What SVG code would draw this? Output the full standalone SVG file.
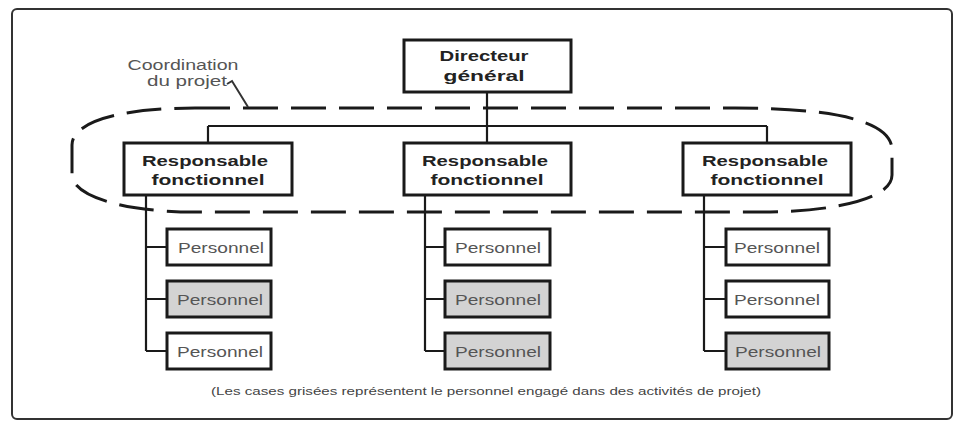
<svg xmlns="http://www.w3.org/2000/svg" width="954" height="421" viewBox="0 0 954 421">
<style>
.box{fill:#fff;stroke:#1a1a1a;stroke-width:3}
.grey{fill:#d3d3d3}
.conn{fill:none;stroke:#1a1a1a;stroke-width:2.2}
.b{font-family:"Liberation Sans",Arial,sans-serif;font-weight:bold;font-size:15px;fill:#222;text-anchor:middle}
.p{font-family:"Liberation Sans",Arial,sans-serif;font-size:15px;fill:#555;text-anchor:middle}
.n{font-family:"Liberation Sans",Arial,sans-serif;font-size:14px;fill:#555;text-anchor:middle}
.c{font-family:"Liberation Sans",Arial,sans-serif;font-size:11px;fill:#444;text-anchor:middle}
</style>
<rect x="0" y="0" width="954" height="421" fill="#fff"/>
<rect x="12" y="9" width="940" height="410" rx="5" fill="#fff" stroke="#333" stroke-width="2"/>

<g id="connectors">
<path class="conn" d="M487 92 V126 M208 126 H767 M208 126 V143 M487 126 V143 M767 126 V143"/>
<path class="conn" d="M146 195 V351 M146 247 H167 M146 299 H167 M146 351 H167"/>
<path class="conn" d="M425 195 V351 M425 247 H445 M425 299 H445 M425 351 H445"/>
<path class="conn" d="M704 195 V351 M704 247 H726 M704 299 H726 M704 351 H726"/>
</g>

<g id="coordination">
<path d="M195 108 L735 108 C830 108 892 120 892 150 L892 175 C892 200 830 212 760 212 L195 212 C120 212 72 195 72 175 L72 145 C72 122 120 108 195 108 Z" fill="none" stroke="#1a1a1a" stroke-width="3" stroke-dasharray="35 13"/>
<text class="n" x="183" y="70" textLength="111" lengthAdjust="spacingAndGlyphs">Coordination</text>
<text class="n" x="187" y="86" textLength="80" lengthAdjust="spacingAndGlyphs">du projet</text>
<polyline points="227,84 232,81 248,107" fill="none" stroke="#333" stroke-width="2"/>
</g>

<g id="dg">
<rect class="box" x="404" y="40" width="167" height="52"/>
<text class="b" x="484" y="61" textLength="89" lengthAdjust="spacingAndGlyphs">Directeur</text>
<text class="b" x="484" y="81" textLength="81" lengthAdjust="spacingAndGlyphs">général</text>
</g>

<g id="resp1">
<rect class="box" x="124" y="143" width="168" height="52"/>
<text class="b" x="205" y="166" textLength="126" lengthAdjust="spacingAndGlyphs">Responsable</text>
<text class="b" x="208" y="185" textLength="113" lengthAdjust="spacingAndGlyphs">fonctionnel</text>
</g>
<g id="resp2">
<rect class="box" x="404" y="143" width="167" height="52"/>
<text class="b" x="485" y="166" textLength="126" lengthAdjust="spacingAndGlyphs">Responsable</text>
<text class="b" x="487" y="185" textLength="113" lengthAdjust="spacingAndGlyphs">fonctionnel</text>
</g>
<g id="resp3">
<rect class="box" x="683" y="143" width="168" height="52"/>
<text class="b" x="765" y="166" textLength="126" lengthAdjust="spacingAndGlyphs">Responsable</text>
<text class="b" x="767" y="185" textLength="113" lengthAdjust="spacingAndGlyphs">fonctionnel</text>
</g>

<g id="p1a"><rect class="box" x="167" y="229" width="104" height="36"/><text class="p" x="221" y="253" textLength="86" lengthAdjust="spacingAndGlyphs">Personnel</text></g>
<g id="p1b"><rect class="box grey" x="167" y="281" width="104" height="36"/><text class="p" x="220" y="305" textLength="86" lengthAdjust="spacingAndGlyphs">Personnel</text></g>
<g id="p1c"><rect class="box" x="167" y="333" width="104" height="36"/><text class="p" x="220" y="357" textLength="86" lengthAdjust="spacingAndGlyphs">Personnel</text></g>

<g id="p2a"><rect class="box" x="445" y="229" width="105" height="36"/><text class="p" x="498" y="253" textLength="86" lengthAdjust="spacingAndGlyphs">Personnel</text></g>
<g id="p2b"><rect class="box grey" x="445" y="281" width="105" height="36"/><text class="p" x="498" y="305" textLength="86" lengthAdjust="spacingAndGlyphs">Personnel</text></g>
<g id="p2c"><rect class="box grey" x="445" y="333" width="105" height="36"/><text class="p" x="498" y="357" textLength="86" lengthAdjust="spacingAndGlyphs">Personnel</text></g>

<g id="p3a"><rect class="box" x="726" y="229" width="103" height="36"/><text class="p" x="777" y="253" textLength="86" lengthAdjust="spacingAndGlyphs">Personnel</text></g>
<g id="p3b"><rect class="box" x="726" y="281" width="103" height="36"/><text class="p" x="777" y="305" textLength="86" lengthAdjust="spacingAndGlyphs">Personnel</text></g>
<g id="p3c"><rect class="box grey" x="726" y="333" width="103" height="36"/><text class="p" x="778" y="357" textLength="86" lengthAdjust="spacingAndGlyphs">Personnel</text></g>

<text class="c" x="486" y="395" textLength="550" lengthAdjust="spacingAndGlyphs">(Les cases grisées représentent le personnel engagé dans des activités de projet)</text>
</svg>
